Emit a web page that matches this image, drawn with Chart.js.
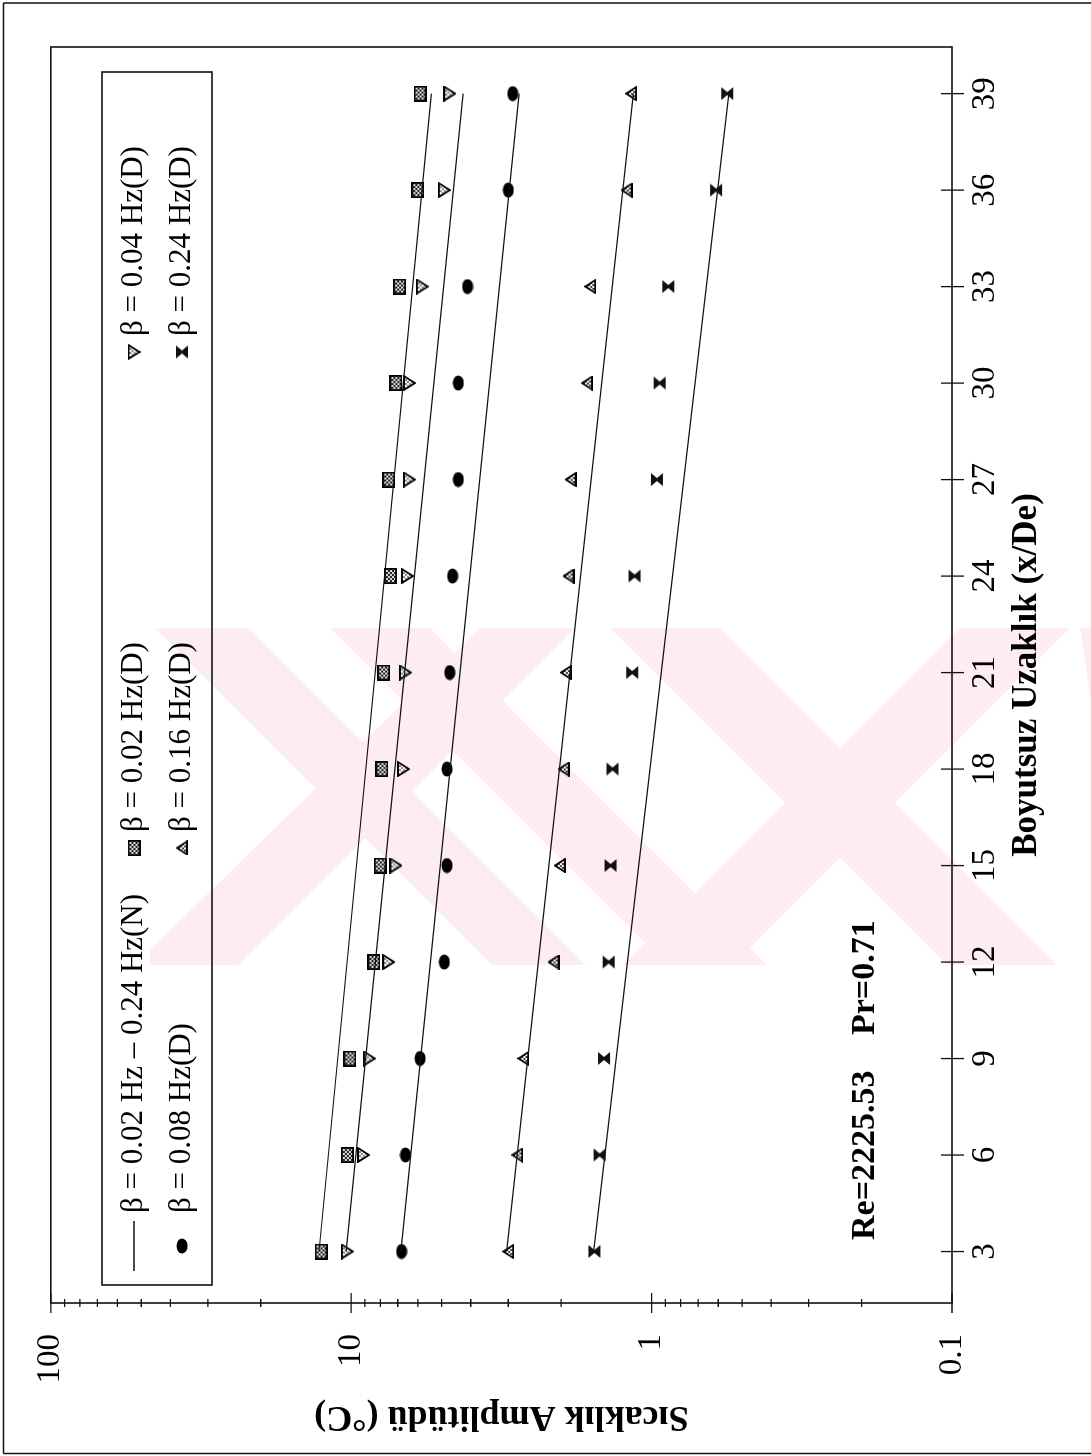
<!DOCTYPE html>
<html>
<head>
<meta charset="utf-8">
<script src="https://cdn.jsdelivr.net/npm/chart.js@4.4.0/dist/chart.umd.min.js"></script>
<style>
  html, body { margin: 0; padding: 0; background: #fff; }
  body { width: 1091px; height: 1456px; overflow: hidden; position: relative; }
  #wm { position: absolute; left: 0; top: 0; }
  /* the sheet is laid out landscape and turned a quarter to the left */
  #sheet { position: absolute; left: 0; top: 0; width: 1456px; height: 1091px;
           transform-origin: 0 0; transform: translate(0, 1456px) rotate(-90deg); }
</style>
</head>
<body>
<svg id="wm" width="1091" height="1456">
  <g fill="#feedf0">
    <polygon points="155,628 249,628 586,965 492,965"/>
    <polygon points="480,628 575,628 238,965 150,965 150,950"/>
    <polygon points="610,628 720,628 1057,965 947,965"/>
    <polygon points="960,628 1070,628 733,965 623,965"/>
    <polygon points="330,628 430,628 767,965 667,965"/>
    <polygon points="1080,628 1091,628 1091,700"/>
  </g>
</svg>
<div id="sheet"><canvas id="amplitudeChart" width="1456" height="1091"></canvas></div>
<script>
// measuring stations x/De
const distances = [3, 6, 9, 12, 15, 18, 21, 24, 27, 30, 33, 36, 39];

// measured amplitudes (°C)
const amp002 = [12.6, 10.3, 10.1, 8.4, 8.0, 7.9, 7.8, 7.4, 7.5, 7.1, 6.9, 6.0, 5.9];
const amp004 = [10.3, 9.1, 8.7, 7.5, 7.1, 6.7, 6.6, 6.5, 6.4, 6.4, 5.8, 4.9, 4.7];
const amp008 = [6.8, 6.6, 5.9, 4.9, 4.8, 4.8, 4.7, 4.6, 4.4, 4.4, 4.1, 3.0, 2.9];
const amp016 = [3.0, 2.8, 2.67, 2.12, 2.02, 1.96, 1.93, 1.89, 1.86, 1.64, 1.6, 1.21, 1.17];
const amp024 = [1.55, 1.49, 1.44, 1.39, 1.37, 1.35, 1.16, 1.14, 0.96, 0.94, 0.88, 0.61, 0.56];

// numerical solution, straight lines on the log axis
const fitX = [3, 39];
const fit002 = [12.8, 5.41];
const fit004 = [10.4, 4.24];
const fit008 = [6.83, 2.76];
const fit016 = [3.04, 1.15];
const fit024 = [1.56, 0.553];

const yTicks = [0.1, 1, 10, 100];

const legendLabels = [
    'β = 0.02 Hz – 0.24 Hz(N)', 'β = 0.02 Hz(D)', 'β = 0.04 Hz(D)',
    'β = 0.08 Hz(D)', 'β = 0.16 Hz(D)', 'β = 0.24 Hz(D)'
];

const serif = '"Liberation Serif", "Times New Roman", serif';

function makeMarker(w, h, paint) {
    const c = document.createElement('canvas');
    c.width = w;
    c.height = h;
    paint(c.getContext('2d'), w, h);
    return c;
}

function checker(ctx, w, h, dark, light, step) {
    for (let i = 0; i < w; i += step) {
        for (let j = 0; j < h; j += step) {
            ctx.fillStyle = ((i + j) / step) % 2 === 0 ? dark : light;
            ctx.fillRect(i, j, step, step);
        }
    }
}

const squareMark = makeMarker(16, 13, (ctx, w, h) => {
    checker(ctx, w, h, '#222', '#ddd', 2);
    ctx.strokeStyle = '#000';
    ctx.lineWidth = 1.8;
    ctx.strokeRect(0.9, 0.9, w - 1.8, h - 1.8);
});

function triangle(ctx, pts, fill) {
    ctx.beginPath();
    ctx.moveTo(pts[0], pts[1]);
    ctx.lineTo(pts[2], pts[3]);
    ctx.lineTo(pts[4], pts[5]);
    ctx.closePath();
    ctx.save();
    ctx.clip();
    checker(ctx, 20, 20, fill, '#fff', 2);
    ctx.restore();
    ctx.strokeStyle = '#000';
    ctx.lineWidth = 1.8;
    ctx.stroke();
}

const downMark = makeMarker(16, 13, (ctx, w, h) => {
    triangle(ctx, [1, 1, w - 1, 1, w / 2, h - 1], '#888');
});

const upMark = makeMarker(15, 12, (ctx, w, h) => {
    triangle(ctx, [w / 2, 1, w - 1, h - 1, 1, h - 1], '#444');
});

const circleMark = makeMarker(16, 12, (ctx, w, h) => {
    ctx.fillStyle = '#000';
    ctx.beginPath();
    ctx.ellipse(w / 2, h / 2, w / 2 - 0.5, h / 2 - 0.5, 0, 0, Math.PI * 2);
    ctx.fill();
});

const hourglassMark = makeMarker(15, 14, (ctx, w, h) => {
    ctx.fillStyle = '#111';
    ctx.beginPath();
    ctx.moveTo(1, 1);
    ctx.lineTo(w - 1, 1);
    ctx.lineTo(w / 2 + 1.5, h / 2);
    ctx.lineTo(w - 1, h - 1);
    ctx.lineTo(1, h - 1);
    ctx.lineTo(w / 2 - 1.5, h / 2);
    ctx.closePath();
    ctx.fill();
});

function toPoints(xs, ys) {
    return xs.map((x, i) => ({ x: x, y: ys[i] }));
}

function fitLine(ys) {
    return {
        data: toPoints(fitX, ys),
        showLine: true,
        borderColor: '#111',
        borderWidth: 1.2,
        pointRadius: 0,
        pointHoverRadius: 0
    };
}

function markers(ys, mark) {
    return {
        data: toPoints(distances, ys),
        showLine: false,
        pointStyle: mark,
        pointRadius: 7,
        pointHoverRadius: 7
    };
}

// plot box, crossing ticks, page frame
const framePlugin = {
    id: 'frame',
    beforeDatasetsDraw(chart) {
        const ctx = chart.ctx;
        const a = chart.chartArea;
        const xs = chart.scales.x;
        const ys = chart.scales.y;
        ctx.save();
        ctx.strokeStyle = '#111';

        ctx.lineWidth = 1.5;
        ctx.beginPath();
        ctx.moveTo(2.5, 3.5);
        ctx.lineTo(1453, 3.5);
        ctx.moveTo(1453, 3.5);
        ctx.lineTo(1453, 1091);
        ctx.moveTo(2.5, 3.5);
        ctx.lineTo(2.5, 1091);
        ctx.stroke();

        ctx.lineWidth = 1.6;
        ctx.strokeRect(a.left, a.top, a.right - a.left, a.bottom - a.top);

        ctx.lineWidth = 1.3;
        ctx.beginPath();
        distances.forEach(d => {
            const px = xs.getPixelForValue(d);
            ctx.moveTo(px, a.bottom - 11);
            ctx.lineTo(px, a.bottom + 12);
        });
        for (let dec = 0.1; dec < 100; dec *= 10) {
            for (let k = 1; k <= 10; k++) {
                const py = ys.getPixelForValue(dec * k);
                const len = (k === 1 || k === 10) ? 10 : 4;
                ctx.moveTo(a.left - len, py);
                ctx.lineTo(a.left + len, py);
            }
        }
        ctx.stroke();
        ctx.restore();
    }
};

// legend box, Re / Pr note
const notePlugin = {
    id: 'notes',
    afterDatasetsDraw(chart) {
        const ctx = chart.ctx;
        ctx.save();
        ctx.strokeStyle = '#111';
        ctx.lineWidth = 1.6;
        ctx.strokeRect(171, 102, 1213, 110);

        const rows = [134, 182];
        const markX = [210, 608, 1104];
        const textX = [243, 624, 1120];
        const icons = [null, squareMark, downMark, circleMark, upMark, hourglassMark];

        ctx.font = '31px ' + serif;
        ctx.fillStyle = '#000';
        ctx.textBaseline = 'middle';
        ctx.textAlign = 'left';
        legendLabels.forEach((label, i) => {
            const r = rows[Math.floor(i / 3)];
            const c = i % 3;
            if (icons[i] === null) {
                ctx.lineWidth = 1.3;
                ctx.beginPath();
                ctx.moveTo(markX[c] - 25, r);
                ctx.lineTo(markX[c] + 25, r);
                ctx.stroke();
            } else {
                const m = icons[i];
                ctx.drawImage(m, markX[c] - m.width / 2, r - m.height / 2);
            }
            ctx.fillText(label, textX[c], r);
        });

        ctx.font = 'bold 34px ' + serif;
        ctx.fillText('Re=2225.53', 216, 865);
        ctx.fillText('Pr=0.71', 421, 865);
        ctx.restore();
    }
};

const ctx = document.getElementById('amplitudeChart').getContext('2d');
new Chart(ctx, {
    type: 'scatter',
    data: {
        datasets: [
            fitLine(fit002), fitLine(fit004), fitLine(fit008), fitLine(fit016), fitLine(fit024),
            markers(amp002, squareMark),
            markers(amp004, downMark),
            markers(amp008, circleMark),
            markers(amp016, upMark),
            markers(amp024, hourglassMark)
        ]
    },
    options: {
        responsive: false,
        animation: false,
        events: [],
        layout: { padding: { left: 0, right: 47, top: 48, bottom: 0 } },
        plugins: {
            legend: { display: false },
            tooltip: { enabled: false }
        },
        scales: {
            x: {
                type: 'linear',
                position: 'bottom',
                min: 1.4,
                max: 40.45,
                grid: { display: false, drawTicks: false },
                border: { display: false },
                afterBuildTicks: (scale) => {
                    scale.ticks = distances.map(v => ({ value: v }));
                },
                afterFit: (scale) => { scale.height = 139; },
                ticks: {
                    padding: 14,
                    color: '#000',
                    font: { family: serif, size: 33 }
                },
                title: {
                    display: true,
                    text: 'Boyutsuz Uzaklık (x/De)',
                    color: '#000',
                    padding: { top: 0, bottom: 43 },
                    font: { family: serif, size: 35, weight: 'bold' }
                }
            },
            y: {
                type: 'logarithmic',
                min: 0.1,
                max: 100,
                grid: { display: false, drawTicks: false },
                border: { display: false },
                afterBuildTicks: (scale) => {
                    scale.ticks = yTicks.map(v => ({ value: v, major: true }));
                },
                afterFit: (scale) => { scale.width = 153; },
                ticks: {
                    padding: 31,
                    color: '#000',
                    font: { family: serif, size: 33 },
                    callback: (v) => String(v)
                },
                title: {
                    display: true,
                    text: 'Sıcaklık Amplitüdü (°C)',
                    color: '#000',
                    padding: { top: 18, bottom: 0 },
                    font: { family: serif, size: 36, weight: 'bold' }
                }
            }
        }
    },
    plugins: [framePlugin, notePlugin]
});
</script>
</body>
</html>
